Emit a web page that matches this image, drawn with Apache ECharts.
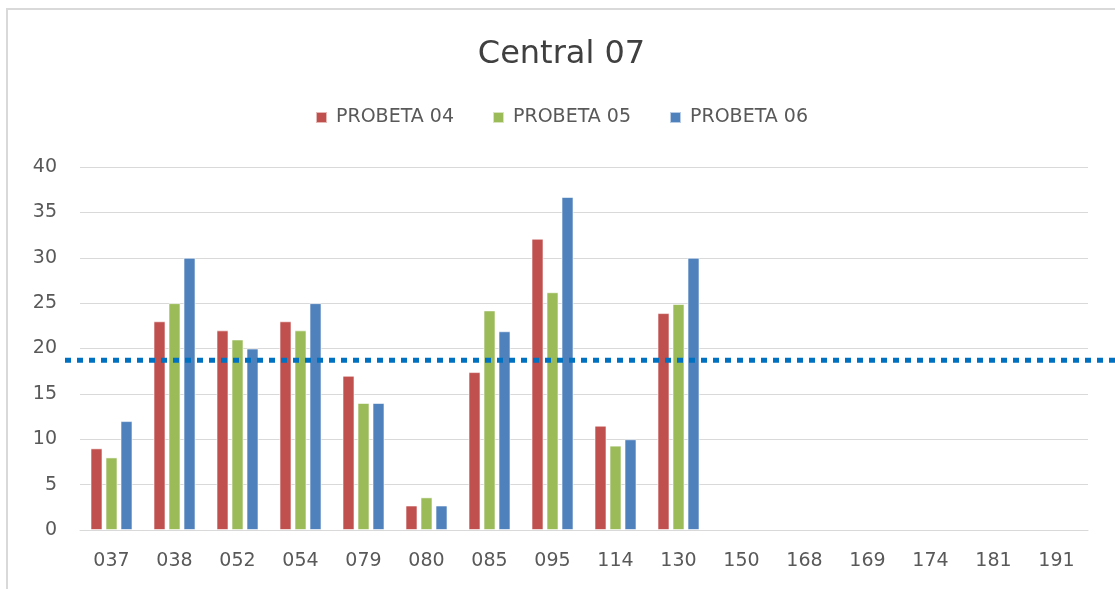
<!DOCTYPE html>
<html>
<head>
<meta charset="utf-8">
<script src="https://cdn.jsdelivr.net/npm/echarts@6/dist/echarts.min.js"></script>
<style>
  html, body { margin: 0; padding: 0; background: #fff; }
  #chart { position: absolute; left: 6px; top: 8px; width: 1109px; height: 581px;
           border-left: 2px solid #d9d9d9; border-top: 2px solid #d9d9d9; box-sizing: border-box; }
</style>
</head>
<body>
<div id="chart"></div>
<script>
const categories = ['037', '038', '052', '054', '079', '080', '085', '095', '114', '130',
  '150', '168', '169', '174', '181', '191']
const probeta04 = [9, 23, 22, 23, 17, 2.7, 17.4, 32.1, 11.5, 23.9, null, null, null, null, null, null]
const probeta05 = [8, 25, 21, 22, 14, 3.6, 24.2, 26.2, 9.3, 24.9, null, null, null, null, null, null]
const probeta06 = [12, 30, 20, 25, 14, 2.7, 21.9, 36.7, 10, 30, null, null, null, null, null, null]
const refValue = 18.7

const colors = ['#C0504D', '#9BBB59', '#4F81BD']
const font = '"DejaVu Sans", sans-serif'

const chart = echarts.init(document.getElementById('chart'))

const bar = (name, data, color) => ({
  name, type: 'bar', data,
  barWidth: 12, barGap: '25%',
  itemStyle: { color, borderColor: 'rgba(255,255,255,0.6)', borderWidth: 1 },
  emphasis: { disabled: true }
})

chart.setOption({
  animation: false,
  color: colors,
  textStyle: { fontFamily: font },
  title: {
    text: 'Central 07', left: 'center', top: 24,
    textStyle: { fontSize: 32, fontWeight: 'normal', color: '#404040', fontFamily: font }
  },
  legend: {
    top: 93, left: 'center', itemWidth: 11, itemHeight: 11, itemGap: 38,
    icon: 'rect',
    textStyle: { fontSize: 19, color: '#595959', fontFamily: font, padding: [0, 0, 0, 4] }
  },
  grid: { left: 72, right: 27, top: 157, bottom: 59 },
  xAxis: {
    type: 'category', data: categories,
    axisLine: { lineStyle: { color: '#d9d9d9' } },
    axisTick: { show: false },
    axisLabel: { fontSize: 19, color: '#595959', margin: 22 }
  },
  yAxis: {
    type: 'value', min: 0, max: 40, interval: 5,
    axisLine: { show: false }, axisTick: { show: false },
    axisLabel: { fontSize: 19, color: '#595959', margin: 23 },
    splitLine: { lineStyle: { color: '#d9d9d9' } }
  },
  series: [
    bar('PROBETA 04', probeta04, colors[0]),
    bar('PROBETA 05', probeta05, colors[1]),
    bar('PROBETA 06', probeta06, colors[2])
  ]
})

// dotted reference line, runs past the plot area like the original drawing
const y = chart.convertToPixel({ yAxisIndex: 0 }, refValue)
chart.setOption({
  graphic: [{
    type: 'line', z: 100,
    shape: { x1: 57, y1: y, x2: 1107, y2: y },
    style: { stroke: '#0070C0', lineWidth: 5, lineDash: [6, 6] }
  }]
})
</script>
</body>
</html>
